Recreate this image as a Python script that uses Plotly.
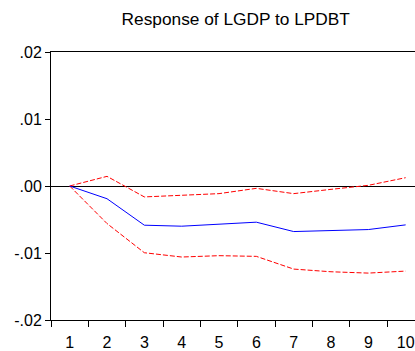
import plotly.graph_objects as go

# Impulse response of LGDP to a shock in LPDBT, with +/- 2 S.E. bands
periods = ["1", "2", "3", "4", "5", "6", "7", "8", "9", "10"]
response = [0.0, -0.0019, -0.00585, -0.0060, -0.0057, -0.0054, -0.0068, -0.0067, -0.0065, -0.0058]
upper_band = [0.0, 0.00144, -0.00163, -0.00139, -0.00114, -0.00035, -0.00114, -0.0005, 0.0001, 0.00124]
lower_band = [0.0, -0.0056, -0.00996, -0.0106, -0.0104, -0.0105, -0.0124, -0.0128, -0.0130, -0.0127]

y_tickvals = [0.02, 0.01, 0.0, -0.01, -0.02]
y_ticktext = [".02", ".01", ".00", "-.01", "-.02"]

band_line = dict(color="#ff0000", width=1, dash="5px,2px")

fig = go.Figure()
fig.add_trace(go.Scatter(x=periods, y=upper_band, mode="lines", line=band_line))
fig.add_trace(go.Scatter(x=periods, y=lower_band, mode="lines", line=band_line))
fig.add_trace(go.Scatter(x=periods, y=response, mode="lines",
                         line=dict(color="#0000ff", width=1)))

fig.update_layout(
    width=415, height=351,
    margin=dict(l=51, r=0, t=52, b=29),
    paper_bgcolor="white", plot_bgcolor="white",
    showlegend=False,
    font=dict(family="Arial, Liberation Sans, sans-serif", size=16, color="black"),
    title=dict(text="Response of LGDP to LPDBT", x=0.568, xanchor="center",
               y=0.945, yanchor="middle",
               font=dict(size=17.3, color="black")),
)
fig.update_xaxes(
    type="category", range=[-0.5, 9.25],
    showline=True, linecolor="black", linewidth=1, mirror=True,
    ticks="outside", tickson="boundaries", ticklen=6, tickcolor="black",
    ticklabelstandoff=8,
    showgrid=False, zeroline=False,
)
fig.update_yaxes(
    range=[-0.02, 0.02], tickvals=y_tickvals, ticktext=y_ticktext,
    showline=True, linecolor="black", linewidth=1,
    ticks="outside", ticklen=5, tickcolor="black",
    showgrid=False, zeroline=True, zerolinecolor="black", zerolinewidth=1,
)

fig.write_html("out.html")
